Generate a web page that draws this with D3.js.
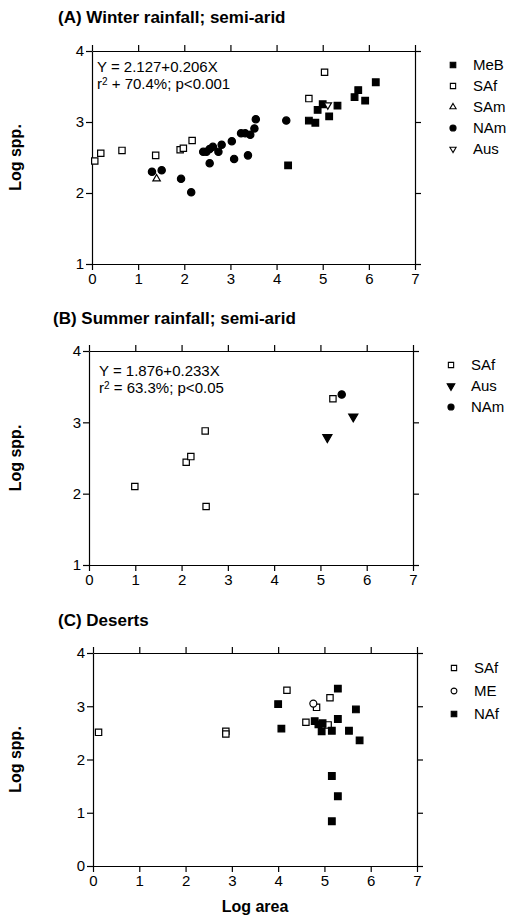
<!DOCTYPE html>
<html>
<head>
<meta charset="utf-8">
<script src="https://cdn.jsdelivr.net/npm/d3@7"></script>
<style>
  body { margin: 0; background: #fff; }
  svg { font-family: "Liberation Sans", Arial, sans-serif; }
  .axis path, .axis line { stroke: #000; stroke-width: 1.2; }
  .axis text { font-size: 15px; fill: #000; }
</style>
</head>
<body>
<script>
// ---- data (log area, log spp.) ----
var xTicks = [0, 1, 2, 3, 4, 5, 6, 7];
var yTicksA = [1, 2, 3, 4];
var yTicksC = [0, 1, 2, 3, 4];

// (A) winter rainfall
var winterMeB = [[4.25,2.39],[4.70,3.02],[4.84,2.99],[4.89,3.17],[5.00,3.25],[5.14,3.08],
  [5.32,3.23],[5.69,3.35],[5.77,3.45],[5.92,3.30],[6.15,3.56]];
var winterSAf = [[0.06,2.45],[0.19,2.56],[0.65,2.60],[1.38,2.53],[1.91,2.61],[1.98,2.63],
  [2.17,2.74],[4.70,3.33],[5.04,3.70]];
var winterSAm = [[1.40,2.20]];
var winterNAm = [[1.30,2.30],[1.51,2.32],[1.93,2.20],[2.15,2.01],[2.41,2.58],[2.48,2.58],
  [2.55,2.42],[2.55,2.62],[2.62,2.65],[2.74,2.58],[2.81,2.68],[3.03,2.73],[3.08,2.48],
  [3.23,2.84],[3.32,2.84],[3.43,2.82],[3.38,2.53],[3.52,2.91],[3.55,3.04],[4.21,3.02]];
var winterAus = [[5.11,3.24]];

// (B) summer rainfall
var summerSAf = [[0.99,2.10],[2.10,2.44],[2.20,2.52],[2.51,2.88],[2.53,1.82],[5.27,3.33]];
var summerAus = [[5.15,2.79],[5.71,3.08]];
var summerNAm = [[5.46,3.39]];

// (C) deserts
var desertSAf = [[0.12,2.51],[2.87,2.53],[2.87,2.48],[4.19,3.30],[4.60,2.70],[4.83,2.98],
  [5.08,2.65],[5.12,3.16]];
var desertME = [[4.76,3.05]];
var desertNAf = [[4.00,3.04],[4.07,2.58],[4.79,2.72],[4.87,2.66],[4.96,2.68],[4.94,2.53],
  [5.16,2.54],[5.29,2.76],[5.29,3.33],[5.53,2.54],[5.68,2.94],[5.76,2.36],[5.16,1.69],
  [5.29,1.31],[5.16,0.84]];

var width = 513, height = 917;

var svg = d3.select("body").append("svg")
    .attr("width", width)
    .attr("height", height);

// marker styles
var sym = {
  sqFill:  { type: d3.symbolSquare, size: 44, fill: "#000", rot: 0 },
  sqOpen:  { type: d3.symbolSquare, size: 40, fill: "#fff", rot: 0 },
  circFill:{ type: d3.symbolCircle, size: 42, fill: "#000", rot: 0 },
  circOpen:{ type: d3.symbolCircle, size: 38, fill: "#fff", rot: 0 },
  triUp:   { type: d3.symbolTriangle, size: 24, fill: "#fff", rot: 0 },
  triDown: { type: d3.symbolTriangle, size: 24, fill: "#fff", rot: 180 },
  triDownFill: { type: d3.symbolTriangle, size: 36, fill: "#000", rot: 180 }
};

var panels = [
  { title: "(A) Winter rainfall; semi-arid", titleX: 58, titleY: 23,
    left: 92, right: 415, top: 51, bottom: 264, yDomain: [1, 4], yTicks: yTicksA,
    eq: ["Y = 2.127+0.206X", "r", " + 70.4%; p<0.001"], eqX: 5, eqY: 21,
    legendX: 453, legendY: 65, legendStep: 21,
    series: [
      { name: "MeB", data: winterMeB, s: sym.sqFill },
      { name: "SAf", data: winterSAf, s: sym.sqOpen },
      { name: "SAm", data: winterSAm, s: sym.triUp },
      { name: "NAm", data: winterNAm, s: sym.circFill },
      { name: "Aus", data: winterAus, s: sym.triDown }
    ] },
  { title: "(B) Summer rainfall; semi-arid", titleX: 53, titleY: 324,
    left: 89, right: 413, top: 351, bottom: 565, yDomain: [1, 4], yTicks: yTicksA,
    eq: ["Y = 1.876+0.233X", "r", " = 63.3%; p<0.05"], eqX: 10, eqY: 25,
    legendX: 451, legendY: 365, legendStep: 21,
    series: [
      { name: "SAf", data: summerSAf, s: sym.sqOpen },
      { name: "Aus", data: summerAus, s: sym.triDownFill },
      { name: "NAm", data: summerNAm, s: sym.circFill }
    ] },
  { title: "(C) Deserts", titleX: 58, titleY: 626,
    left: 93, right: 417, top: 653, bottom: 866, yDomain: [0, 4], yTicks: yTicksC,
    eq: null,
    legendX: 454, legendY: 668, legendStep: 23,
    series: [
      { name: "SAf", data: desertSAf, s: sym.sqOpen },
      { name: "ME", data: desertME, s: sym.circOpen },
      { name: "NAf", data: desertNAf, s: sym.sqFill }
    ] }
];

panels.forEach(function (p, i) {
  var x = d3.scaleLinear().domain([0, 7]).range([p.left, p.right]);
  var y = d3.scaleLinear().domain(p.yDomain).range([p.bottom, p.top]);
  var g = svg.append("g");

  g.append("text")
    .attr("x", p.titleX).attr("y", p.titleY)
    .style("font-size", "17px").style("font-weight", "bold")
    .text(p.title);

  // axes on all four sides, ticks outward
  g.append("g").attr("class", "axis")
    .attr("transform", "translate(0," + p.bottom + ")")
    .call(d3.axisBottom(x).tickValues(xTicks).tickFormat(d3.format("d")).tickSizeOuter(0).tickPadding(3));
  g.append("g").attr("class", "axis")
    .attr("transform", "translate(0," + p.top + ")")
    .call(d3.axisTop(x).tickValues(xTicks).tickFormat("").tickSizeOuter(0));
  g.append("g").attr("class", "axis")
    .attr("transform", "translate(" + p.left + ",0)")
    .call(d3.axisLeft(y).tickValues(p.yTicks).tickFormat(d3.format("d")).tickSizeOuter(0).tickPadding(2));
  g.append("g").attr("class", "axis")
    .attr("transform", "translate(" + p.right + ",0)")
    .call(d3.axisRight(y).tickValues(p.yTicks).tickFormat("").tickSizeOuter(0));

  // y label
  g.append("text")
    .attr("transform", "translate(21," + ((p.top + p.bottom) / 2) + ") rotate(-90)")
    .attr("text-anchor", "middle")
    .style("font-size", "16px").style("font-weight", "bold")
    .text("Log spp.");

  // regression text
  if (p.eq) {
    g.append("text")
      .attr("x", p.left + p.eqX).attr("y", p.top + p.eqY)
      .style("font-size", "15px")
      .text(p.eq[0]);
    var t = g.append("text")
      .attr("x", p.left + p.eqX).attr("y", p.top + p.eqY + 17)
      .style("font-size", "15px");
    t.append("tspan").text(p.eq[1]);
    t.append("tspan").attr("dy", -4).style("font-size", "10px").text("2");
    t.append("tspan").attr("dy", 4).text(p.eq[2]);
  }

  // points
  p.series.forEach(function (s) {
    g.selectAll(null)
      .data(s.data)
      .enter().append("path")
      .attr("d", d3.symbol().type(s.s.type).size(s.s.size))
      .attr("transform", function (d) {
        return "translate(" + x(d[0]) + "," + y(d[1]) + ") rotate(" + s.s.rot + ")";
      })
      .attr("fill", s.s.fill)
      .attr("stroke", "#000")
      .attr("stroke-width", 1.2);
  });

  // legend
  var lg = g.selectAll(".lg" + i)
    .data(p.series)
    .enter().append("g")
    .attr("transform", function (d, k) {
      return "translate(" + p.legendX + "," + (p.legendY + k * p.legendStep) + ")";
    });
  lg.append("path")
    .attr("d", function (d) { return d3.symbol().type(d.s.type).size(d.s.size * 0.7)(); })
    .attr("transform", function (d) { return "rotate(" + d.s.rot + ")"; })
    .attr("fill", function (d) { return d.s.fill; })
    .attr("stroke", "#000")
    .attr("stroke-width", 1.1);
  lg.append("text")
    .attr("x", 20).attr("y", 5)
    .style("font-size", "15px")
    .text(function (d) { return d.name; });
});

svg.append("text")
  .attr("x", 255).attr("y", 912)
  .attr("text-anchor", "middle")
  .style("font-size", "16px").style("font-weight", "bold")
  .text("Log area");
</script>
</body>
</html>
